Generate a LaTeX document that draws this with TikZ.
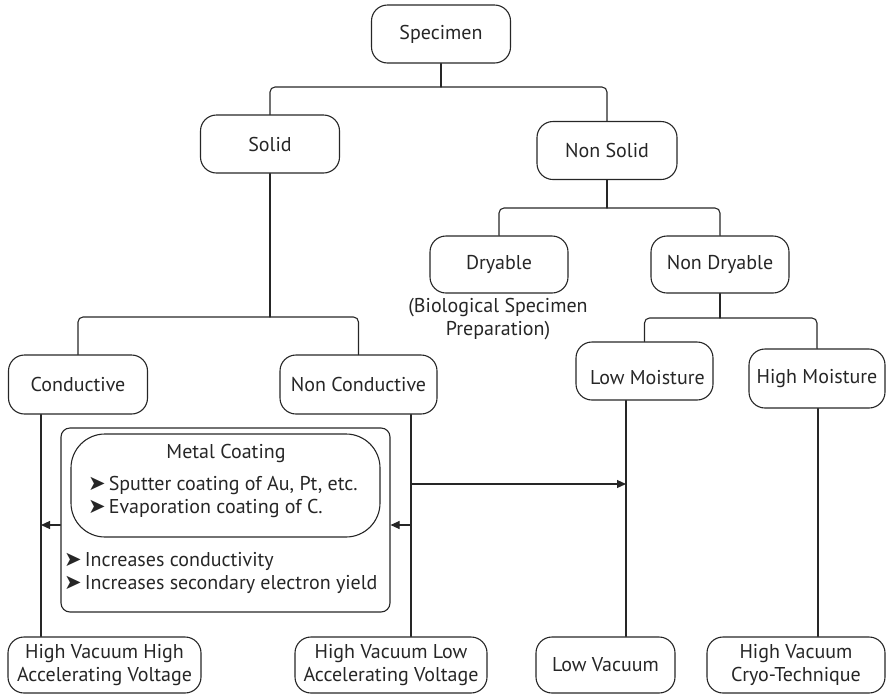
\documentclass[tikz,border=0pt]{standalone}
\usepackage{fontspec}
\setmainfont{PT Sans}
\newfontfamily\dingfont{DejaVu Sans}
\usetikzlibrary{arrows.meta}
\definecolor{ink}{HTML}{262626}
\newcommand{\bul}{{\dingfont\fontsize{21}{21}\selectfont\char"27A4}\hspace{3pt}}
\tikzset{
  >={Triangle[length=9pt, width=8pt]},
  every picture/.style={line cap=round, line join=round},
  box/.style={draw=ink, line width=1.1pt, rounded corners=16pt, minimum height=58pt,
    inner sep=2pt, align=center, text=ink},
  link/.style={draw=ink, line width=1.1pt, rounded corners=5pt},
  flow/.style={->, draw=ink, line width=1.1pt},
  % frame around the coating notes
  coatbox/.style={draw=ink, line width=1.1pt, rounded corners=9pt},
  metalbox/.style={draw=ink, line width=1.1pt, rounded corners=34pt},
  note/.style={text=ink, align=left, inner sep=0pt},
}

\begin{document}
\begin{tikzpicture}[x=1pt, y=-1pt, font=\fontsize{20}{23.5}\selectfont]
  \useasboundingbox (0,0) rectangle (886,694);
  % tree of specimen types
  \node[box, minimum width=139pt] (spec) at (441,34) {Specimen};
  \node[box, minimum width=139pt] (solid) at (270,144) {Solid};
  \node[box, minimum width=140pt] (nonsolid) at (607,150.5) {Non Solid};
  \node[box, minimum width=138pt, minimum height=57pt] (dry) at (499,264.5) {Dryable};
  \node[box, minimum width=138pt, minimum height=57pt] (nondry) at (720,264.5) {Non Dryable};
  \node[note, align=center, anchor=north] (bio) at (498,298) {(Biological Specimen\\Preparation)};
  \node[box, minimum width=139pt, minimum height=59pt] (cond) at (78,384.5) {Conductive};
  \node[box, minimum width=157pt, minimum height=59pt] (noncond) at (358.5,384.5) {Non Conductive};
  \node[box, minimum width=137pt] (lowm) at (644.5,371) {\raisebox{-7pt}[\height][\depth]{\hspace*{6pt}Low Moisture}};
  \node[box, minimum width=136pt, minimum height=59pt] (highm) at (817,378.5) {High Moisture};
  % vacuum modes
  \node[box, minimum width=193pt, minimum height=56pt] (hvhv) at (104.5,665) {High Vacuum High\\Accelerating Voltage};
  \node[box, minimum width=192pt, minimum height=56pt] (hvlv) at (391,665) {High Vacuum Low\\Accelerating Voltage};
  \node[box, minimum width=139pt, minimum height=56pt] (lowv) at (605.5,665) {Low Vacuum};
  \node[box, minimum width=178pt, minimum height=56pt] (hvcryo) at (796,665) {High Vacuum\\Cryo-Technique};

  % coating notes
  \node[coatbox, minimum width=329pt, minimum height=184pt] (coat) at (225.5,520) {};
  \node[metalbox, minimum width=309pt, minimum height=103pt] (metal) at (225.5,485.5) {};
  \node[note] (mtitle) at (226,453) {Metal Coating};
  \node[note, anchor=west] (mlist) at (88,497) {\bul Sputter coating of Au, Pt, etc.\\\bul Evaporation coating of C.};
  \node[note, anchor=west] (clist) at (64,573) {\bul Increases conductivity\\\bul Increases secondary electron yield};

  \coordinate (cx) at (41,0);
  \coordinate (ncx) at (411,0);
  \coordinate (lmx) at (626,0);
  \coordinate (hmx) at (818,0);

  \draw[link] (spec.south) -- (spec.south|-0,87);
  \draw[link] (solid.north) |- (spec.south|-0,87) -| (nonsolid.north);
  \draw[link] (nonsolid.south) -- (nonsolid.south|-0,208);
  \draw[link] (dry.north) |- (nonsolid.south|-0,208) -| (nondry.north);
  \draw[link] (nondry.south) -- (nondry.south|-0,318);
  \draw[link] (lowm.north) |- (nondry.south|-0,318) -| (highm.north);
  \draw[link] (solid.south) -- (solid.south|-0,317);
  \draw[link] (cond.north) |- (solid.south|-0,317) -| (noncond.north);

  \draw[link] (cond.south-|cx) -- (hvhv.north-|cx);
  \draw[link] (noncond.south-|ncx) -- (hvlv.north-|ncx);
  \draw[link] (lowm.south-|lmx) -- (lowv.north-|lmx);
  \draw[link] (highm.south-|hmx) -- (hvcryo.north-|hmx);

  \draw[flow] (coat.west|-0,525) -- (cx|-0,525);
  \draw[flow] (ncx|-0,525) -- (coat.east|-0,525);
  \draw[flow] (ncx|-0,484) -- (lmx|-0,484);
\end{tikzpicture}
\end{document}
